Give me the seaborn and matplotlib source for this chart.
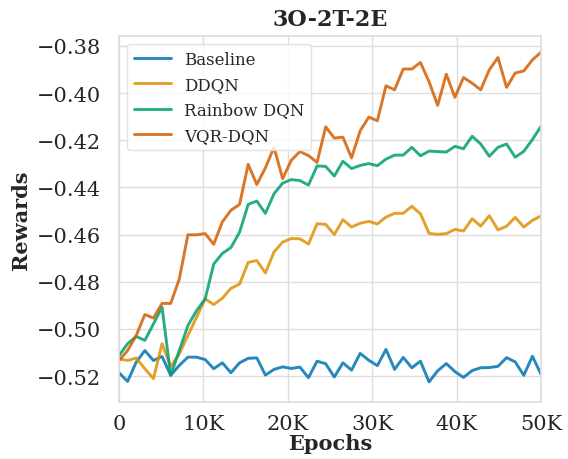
import numpy as np
import pandas as pd
import matplotlib
matplotlib.use("Agg")
import matplotlib.pyplot as plt
import seaborn as sns

# Evaluation points: 50 checkpoints spread over 0-50K training epochs
epochs = np.linspace(0, 50000, 50)

baseline = [-0.5186, -0.5223, -0.5141, -0.5092, -0.5134, -0.5117, -0.5197, -0.5155, -0.5120, -0.5120,
            -0.5130, -0.5169, -0.5144, -0.5186, -0.5144, -0.5125, -0.5123, -0.5196, -0.5172, -0.5161,
            -0.5168, -0.5162, -0.5207, -0.5137, -0.5148, -0.5204, -0.5144, -0.5175, -0.5104, -0.5133,
            -0.5156, -0.5087, -0.5172, -0.5121, -0.5165, -0.5137, -0.5225, -0.5178, -0.5147, -0.5181,
            -0.5206, -0.5177, -0.5165, -0.5164, -0.5159, -0.5122, -0.5140, -0.5197, -0.5116, -0.5193]

ddqn = [-0.5127, -0.5134, -0.5124, -0.5169, -0.5211, -0.5063, -0.5160, -0.5106, -0.5028, -0.4951,
        -0.4873, -0.4897, -0.4870, -0.4828, -0.4810, -0.4718, -0.4710, -0.4763, -0.4674, -0.4632,
        -0.4617, -0.4618, -0.4640, -0.4554, -0.4557, -0.4600, -0.4537, -0.4568, -0.4552, -0.4544,
        -0.4555, -0.4526, -0.4510, -0.4510, -0.4480, -0.4512, -0.4595, -0.4599, -0.4596, -0.4578,
        -0.4585, -0.4533, -0.4564, -0.4520, -0.4580, -0.4565, -0.4527, -0.4568, -0.4540, -0.4521]

rainbow_dqn = [-0.5113, -0.5063, -0.5032, -0.5049, -0.4979, -0.4908, -0.5197, -0.5092, -0.4986, -0.4923,
               -0.4873, -0.4725, -0.4680, -0.4655, -0.4590, -0.4472, -0.4458, -0.4510, -0.4427, -0.4382,
               -0.4367, -0.4371, -0.4390, -0.4309, -0.4311, -0.4352, -0.4289, -0.4320, -0.4307, -0.4299,
               -0.4308, -0.4280, -0.4263, -0.4263, -0.4230, -0.4266, -0.4246, -0.4248, -0.4250, -0.4226,
               -0.4236, -0.4183, -0.4216, -0.4268, -0.4230, -0.4216, -0.4272, -0.4247, -0.4197, -0.4141]

vqr_dqn = [-0.5134, -0.5092, -0.5028, -0.4939, -0.4954, -0.4892, -0.4892, -0.4789, -0.4601, -0.4601,
           -0.4596, -0.4641, -0.4546, -0.4497, -0.4472, -0.4302, -0.4388, -0.4317, -0.4230, -0.4363,
           -0.4285, -0.4248, -0.4265, -0.4294, -0.4143, -0.4191, -0.4187, -0.4275, -0.4160, -0.4102,
           -0.4117, -0.3969, -0.3986, -0.3898, -0.3898, -0.3870, -0.3952, -0.4052, -0.3920, -0.4018,
           -0.3934, -0.3958, -0.3986, -0.3901, -0.3849, -0.3976, -0.3915, -0.3906, -0.3859, -0.3827]

methods = ["Baseline", "DDQN", "Rainbow DQN", "VQR-DQN"]
series = [baseline, ddqn, rainbow_dqn, vqr_dqn]

x_ticks = [0, 10000, 20000, 30000, 40000, 50000]
x_tick_labels = ["0", "10K", "20K", "30K", "40K", "50K"]
y_ticks = [-0.52, -0.50, -0.48, -0.46, -0.44, -0.42, -0.40, -0.38]

df = pd.concat(
    [pd.DataFrame({"Epochs": epochs, "Rewards": vals, "Method": name})
     for name, vals in zip(methods, series)],
    ignore_index=True,
)

sns.set_theme(style="whitegrid")
plt.rcParams["font.family"] = ["DejaVu Serif"]
plt.rcParams["axes.edgecolor"] = "#dddddd"
plt.rcParams["grid.color"] = "#dddddd"

fig = plt.figure(figsize=(5.68, 4.60), dpi=100)
ax = fig.add_axes([0.2095, 0.124, 0.743, 0.796])

palette = sns.color_palette("colorblind", 4)
sns.lineplot(data=df, x="Epochs", y="Rewards", hue="Method", hue_order=methods,
             palette=palette, linewidth=2.1, alpha=0.85, ax=ax)

ax.set_xlim(0, 50000)
ax.set_ylim(-0.531, -0.3757)
ax.set_xticks(x_ticks)
ax.set_xticklabels(x_tick_labels)
ax.set_yticks(y_ticks)
ax.set_yticklabels([f"{v:.2f}".replace("-", "\u2212") for v in y_ticks])
ax.tick_params(axis="y", labelsize=15, pad=7)
ax.tick_params(axis="x", labelsize=15, pad=3)

ax.set_title("3O-2T-2E", fontsize=16, fontweight="bold", pad=8)
ax.set_xlabel("Epochs", fontsize=15, fontweight="bold", labelpad=0)
ax.set_ylabel("Rewards", fontsize=15, fontweight="bold", labelpad=4)

for spine in ax.spines.values():
    spine.set_color("#dddddd")
    spine.set_linewidth(1.2)

leg = ax.legend(loc="upper left", fontsize=12, frameon=True, handlelength=2.2)
leg.get_frame().set_edgecolor("#dddddd")

fig.savefig("out.png", dpi=100)
